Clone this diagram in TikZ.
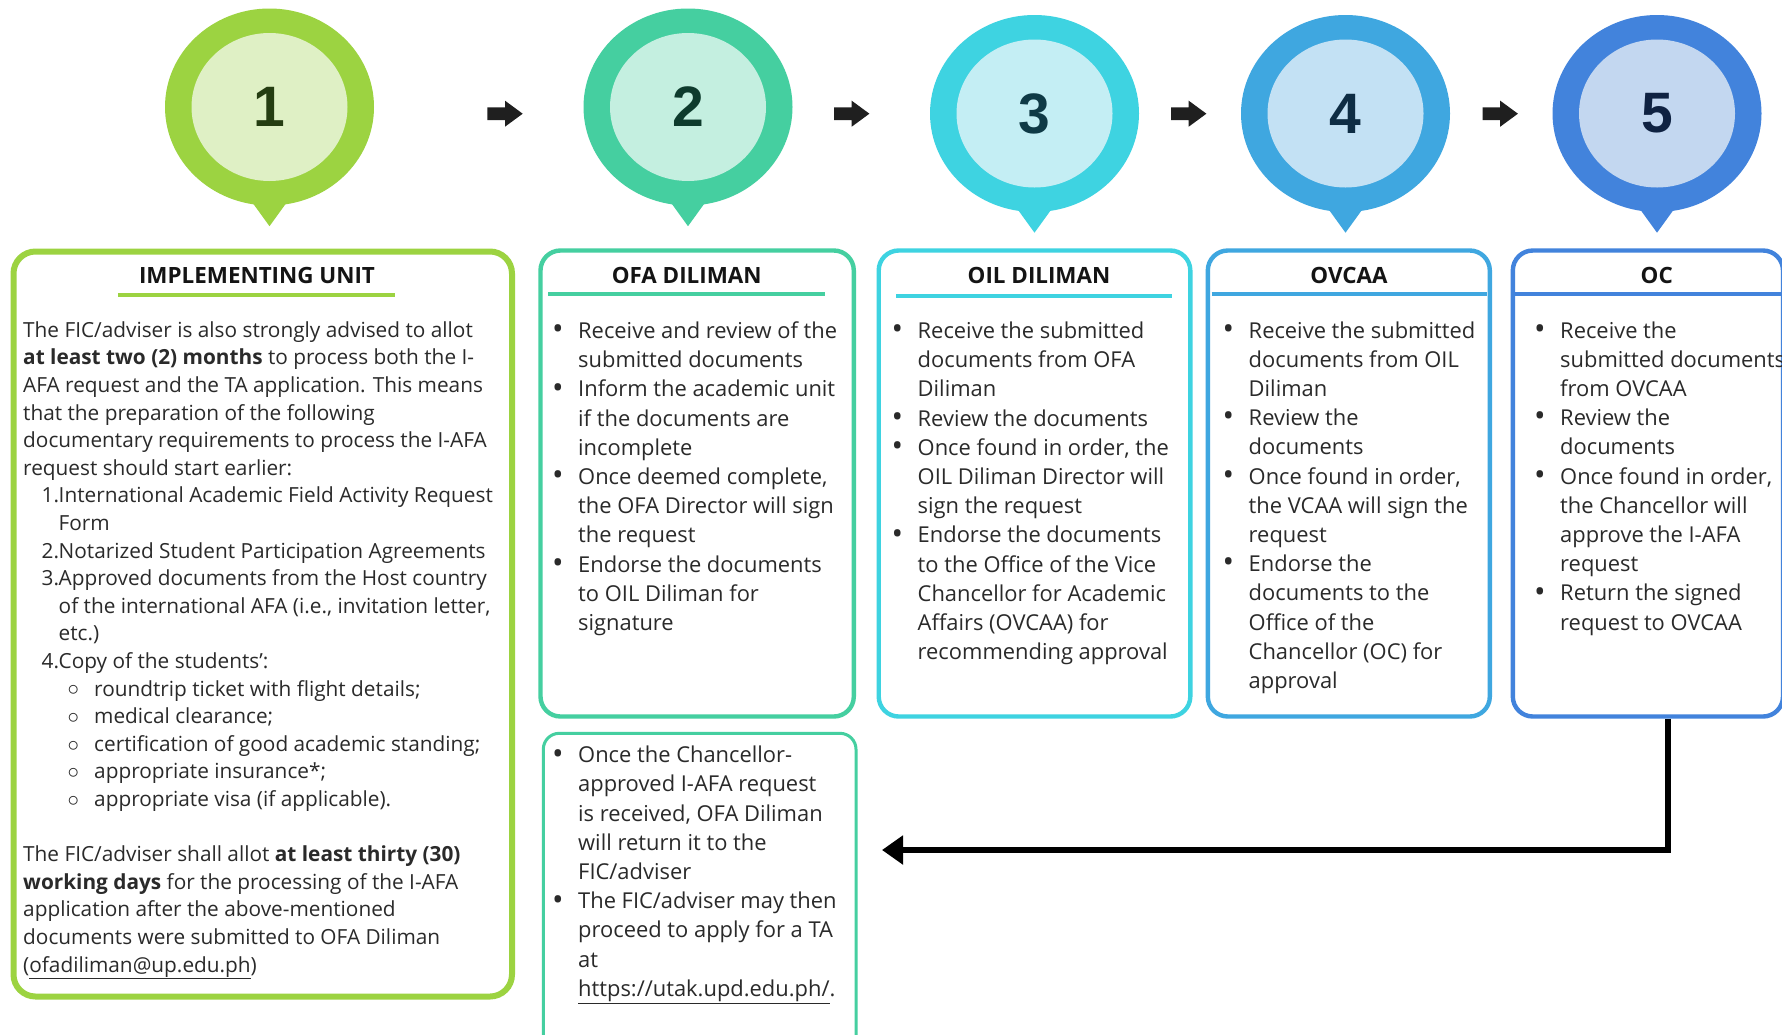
\documentclass[tikz,border=0pt]{standalone}
\usepackage{fontspec}
\setmainfont{Open Sans}
\newfontfamily\numfont{Liberation Sans}
\usetikzlibrary{shapes.geometric,arrows.meta,calc}
\definecolor{gA}{HTML}{9CD341}
\definecolor{gAl}{HTML}{DFF0C5}
\definecolor{gAd}{HTML}{253D12}
\definecolor{gB}{HTML}{45CFA0}
\definecolor{gBl}{HTML}{C4EFE0}
\definecolor{gBd}{HTML}{0E3B2D}
\definecolor{gC}{HTML}{3ED3E1}
\definecolor{gCl}{HTML}{C4EEF4}
\definecolor{gCd}{HTML}{0F3A46}
\definecolor{gD}{HTML}{3FA7E0}
\definecolor{gDl}{HTML}{C3E1F4}
\definecolor{gDd}{HTML}{0E2D44}
\definecolor{gE}{HTML}{4283DC}
\definecolor{gEl}{HTML}{C3D7F0}
\definecolor{gEd}{HTML}{0F2242}
\definecolor{txt}{HTML}{2A2A2A}
\newcommand\bul{\makebox[26pt][l]{\raisebox{-1.3pt}{\scalebox{1.4}{\textbullet}}}}
\newcommand\ind{\hspace*{26pt}}
\newcommand\itemno[1]{\hspace*{18.5pt}\makebox[17pt][l]{#1}}
\newcommand\itemind{\hspace*{35.5pt}}
\newcommand\subitm{\hspace*{44.5pt}\makebox[26.5pt][l]{\raisebox{0.3pt}{\scalebox{1.1}{$\circ$}}}}
\newcommand\flowarrow[2]{\fill[black!88] (#1,#2-6.4) -- ++(17.7,0) -- ++(0,-6.6) -- ++(17.7,13) -- ++(-17.7,13) -- ++(0,-6.6) -- ++(-17.7,0) -- cycle;}
\begin{document}
\begin{tikzpicture}[x=1pt,y=-1pt,
  pinout/.style={ellipse, minimum width=209pt, minimum height=197pt, inner sep=0},
  pinin/.style={ellipse, minimum width=156pt, minimum height=148pt, inner sep=0},
  pinnum/.style={font=\numfont\bfseries\fontsize{57}{57}\selectfont, inner sep=0},
  card/.style={draw, rounded corners=20pt, line width=4.4pt, inner sep=0},
  ttl/.style={font=\bfseries\fontsize{22.4}{24}\selectfont, anchor=base, inner sep=0, text=black!92},
  bodyA/.style={anchor=base west, inner sep=0, text=txt, font=\fontsize{20.8}{27.6}\selectfont},
  bodyB/.style={anchor=base west, inner sep=0, text=txt, font=\fontsize{21.9}{29.2}\selectfont},
  rule/.style={line width=3.2pt},
  conn/.style={line width=6pt, -{Triangle[length=21pt,width=28pt]}}
]
\fill[white] (0,0) rectangle (1782,1034);
\useasboundingbox (0,0) rectangle (1782,1034);

% pins
\foreach \nm/\cx/\cy/\co/\cl/\cd/\lab in {p1/269.5/107/gA/gAl/gAd/1, p2/688/107/gB/gBl/gBd/2, p3/1034.5/113.5/gC/gCl/gCd/3, p4/1345.5/113.5/gD/gDl/gDd/4, p5/1657/113.5/gE/gEl/gEd/5}{
  \node[pinout, fill=\co] (\nm) at (\cx,\cy) {};
  \fill[\co] ($(\nm.south)+(-17,-3)$) -- ($(\nm.south)+(17,-3)$) -- ($(\nm.south)+(0,20.5)$) -- cycle;
  \node[pinin, fill=\cl] (\nm in) at (\cx,\cy) {};
  \node[pinnum, text=\cd] (\nm num) at (\cx,\cy) {\lab};
}

% small flow arrows
\flowarrow{487.3}{113.7}
\flowarrow{834}{113.7}
\flowarrow{1171}{113.7}
\flowarrow{1482.5}{113.7}

% cards
\node[card, draw=gA, line width=6pt, rounded corners=22pt, minimum width=498.5pt, minimum height=745pt] (iu) at (262.75,624) {};
\node[card, draw=gB, minimum width=313.3pt, minimum height=466pt] (ofa) at (697.15,483.5) {};
\node[card, draw=gC, minimum width=311.6pt, minimum height=466pt] (oil) at (1034.5,483.5) {};
\node[card, draw=gD, minimum width=282pt, minimum height=466pt] (ovcaa) at (1348.8,483.5) {};
\node[card, draw=gE, minimum width=270.2pt, minimum height=466pt] (oc) at (1647.9,483.5) {};
\node[card, draw=gB, line width=3pt, rounded corners=16pt, minimum width=312.7pt, minimum height=326.7pt] (ofab) at (699.65,896.65) {};

% titles
\node[ttl] (iut) at (257,283) {IMPLEMENTING UNIT};
\draw[gA, rule] (118,295) -- (395,295);
\node[ttl] (ofat) at (686.7,283) {OFA DILIMAN};
\draw[gB, rule] (548,294) -- (825,294);
\node[ttl] (oilt) at (1039,283) {OIL DILIMAN};
\draw[gC, rule] (896,296) -- (1171.7,296);
\node[ttl] (ovcaat) at (1349,283) {OVCAA};
\draw[gD, rule] (1211.7,294) -- (1486.7,294);
\node[ttl] (oct) at (1656.7,283) {OC};
\draw[gE, rule] (1513,294) -- (1782,294);

% body texts
\node[bodyA] (iub) at (23,337.3) {\parbox[t]{520pt}{%
The FIC/adviser is also strongly advised to allot\\
\textbf{at least two (2) months} to process both the I-\\
AFA request and the TA application. This means\\
that the preparation of the following\\
documentary requirements to process the I-AFA\\
request should start earlier:\\
\itemno{1.}International Academic Field Activity Request\\
\itemind Form\\
\itemno{2.}Notarized Student Participation Agreements\\
\itemno{3.}Approved documents from the Host country\\
\itemind of the international AFA (i.e., invitation letter,\\
\itemind etc.)\\
\itemno{4.}Copy of the students’:\\
\subitm roundtrip ticket with flight details;\\
\subitm medical clearance;\\
\subitm certification of good academic standing;\\
\subitm appropriate insurance*;\\
\subitm appropriate visa (if applicable).\\[27.6pt]
The FIC/adviser shall allot \textbf{at least thirty (30)}\\
\textbf{working days} for the processing of the I-AFA\\
application after the above-mentioned\\
documents were submitted to OFA Diliman\\
(\underline{ofadiliman@up.edu.ph})}};

\node[bodyB] (ofab1) at (552,338.5) {\parbox[t]{320pt}{%
\bul Receive and review of the\\
\ind submitted documents\\
\bul Inform the academic unit\\
\ind if the documents are\\
\ind incomplete\\
\bul Once deemed complete,\\
\ind the OFA Director will sign\\
\ind the request\\
\bul Endorse the documents\\
\ind to OIL Diliman for\\
\ind signature}};

\node[bodyB] (oilb) at (891.5,338.5) {\parbox[t]{320pt}{%
\bul Receive the submitted\\
\ind documents from OFA\\
\ind Diliman\\
\bul Review the documents\\
\bul Once found in order, the\\
\ind OIL Diliman Director will\\
\ind sign the request\\
\bul Endorse the documents\\
\ind to the Office of the Vice\\
\ind Chancellor for Academic\\
\ind Affairs (OVCAA) for\\
\ind recommending approval}};

\node[bodyB] (ovcaab) at (1222.5,338) {\parbox[t]{320pt}{%
\bul Receive the submitted\\
\ind documents from OIL\\
\ind Diliman\\
\bul Review the\\
\ind documents\\
\bul Once found in order,\\
\ind the VCAA will sign the\\
\ind request\\
\bul Endorse the\\
\ind documents to the\\
\ind Office of the\\
\ind Chancellor (OC) for\\
\ind approval}};

\node[bodyB] (ocb) at (1534,338) {\parbox[t]{320pt}{%
\bul Receive the\\
\ind submitted documents\\
\ind from OVCAA\\
\bul Review the\\
\ind documents\\
\bul Once found in order,\\
\ind the Chancellor will\\
\ind approve the I-AFA\\
\ind request\\
\bul Return the signed\\
\ind request to OVCAA}};

\node[bodyB] (ofabb) at (552,762.7) {\parbox[t]{320pt}{%
\bul Once the Chancellor-\\
\ind approved I-AFA request\\
\ind is received, OFA Diliman\\
\ind will return it to the\\
\ind FIC/adviser\\
\bul The FIC/adviser may then\\
\ind proceed to apply for a TA\\
\ind at\\
\ind \underline{https://utak.upd.edu.ph/}.}};

% return connector
\coordinate (bend) at (1668.4,850);
\coordinate (retend) at (882,850);
\draw[conn] (oc.south -| bend) -- (bend) -- (retend);
\end{tikzpicture}
\end{document}
